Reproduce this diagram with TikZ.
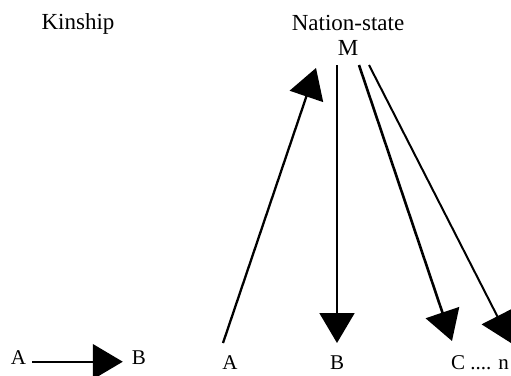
\documentclass[tikz,border=0pt]{standalone}
\usepackage{fontspec}
\setmainfont{Liberation Serif}
\usetikzlibrary{arrows.meta}
\begin{document}
\begin{tikzpicture}[x=1pt,y=-1pt,
  title/.style={font=\fontsize{23}{27}\selectfont, anchor=base, inner sep=0pt},
  lab/.style={font=\fontsize{21}{25}\selectfont, anchor=base, inner sep=0pt},
  bigarrow/.style={-{Triangle[length=30pt,width=35pt]}, line width=2pt}]
\useasboundingbox (0,0) rectangle (511,375);
% titles
\node[title] (kin) at (78,29) {Kinship};
\node[title] (ns) at (348,30) {Nation-state};
\node[title] (M) at (348,55) {M};
% kinship row
\node[lab] (kA) at (18.5,364) {A};
\node[lab] (kB) at (139,364) {B};
\draw[bigarrow, line width=2.2pt, shorten <=6pt, shorten >=9pt] (kA.mid east) -- (kB.mid west);
% nation-state row
\node[lab] (nA) at (230,369) {A};
\node[lab] (nB) at (337,369) {B};
\node[lab, anchor=base west] (nC) at (451,369) {C .... n};
% arrow end points
\coordinate (aTail) at (223,343);
\coordinate (aTip) at (316,68);
\coordinate (bTail) at (337,65);
\coordinate (bTip) at (337,343);
\coordinate (cTail) at (359,65);
\coordinate (cTip) at (452,341);
\coordinate (nTail) at (369,65);
\coordinate (nTip) at (511,343);
\draw[bigarrow, line width=2.3pt] (aTail) -- (aTip);
\draw[bigarrow, line width=1.9pt] (bTail) -- (bTip);
\draw[bigarrow, line width=2.6pt] (cTail) -- (cTip);
\draw[bigarrow, line width=2pt] (nTail) -- (nTip);
\end{tikzpicture}
\end{document}
